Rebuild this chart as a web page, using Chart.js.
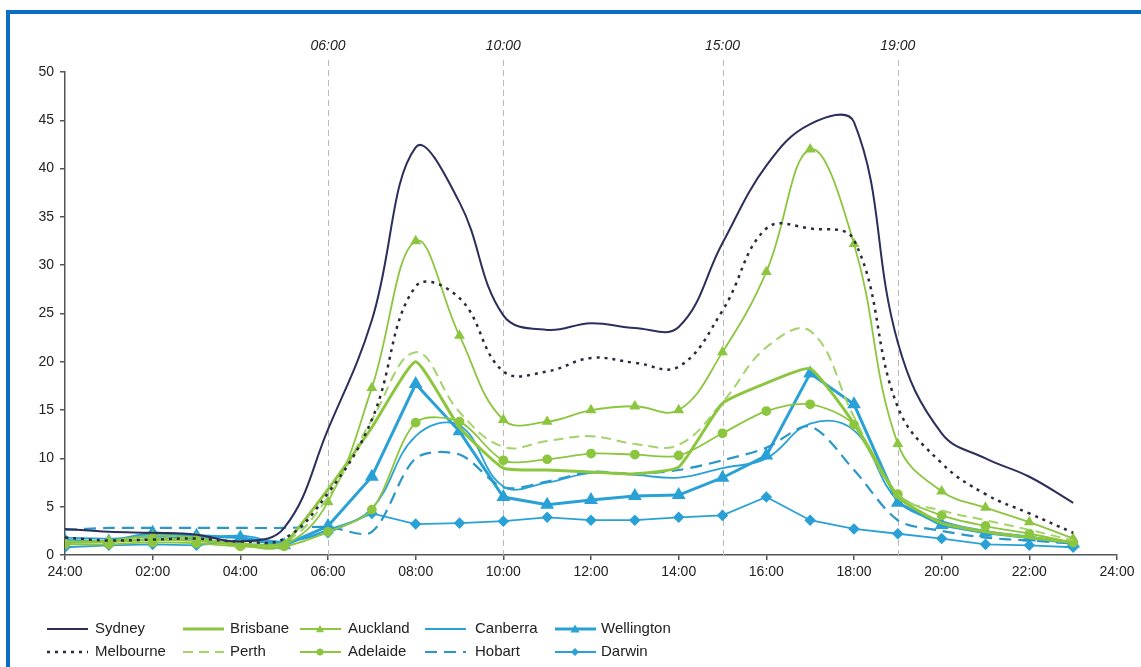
<!DOCTYPE html>
<html lang="en">
<head>
  <meta charset="UTF-8" />
  <title>Hourly profile</title>
  <script src="https://cdn.jsdelivr.net/npm/chart.js"></script>
  <style>
    html, body {
      margin: 0;
      padding: 0;
      background: #fff;
      overflow: hidden;
    }

    #frame {
      position: absolute;
      left: 6px;
      top: 10px;
      width: 1300px;
      height: 800px;
      border-left: 4px solid #0b6ebf;
      border-top: 4px solid #0b6ebf;
    }

    #profileChart {
      position: absolute;
      left: 0;
      top: 0;
    }
  </style>
</head>
<body>
  <div id="frame"></div>
  <canvas id="profileChart" width="1141" height="667"></canvas>

  <script>
    const hours = [0, 1, 2, 3, 4, 5, 6, 7, 8, 9, 10, 11, 12, 13, 14, 15, 16, 17, 18, 19, 20, 21, 22, 23];
    const xTicks = [0, 2, 4, 6, 8, 10, 12, 14, 16, 18, 20, 22, 24];
    const markerHours = [6, 10, 15, 19];

    const sydney     = [2.7, 2.4, 2.3, 2.1, 1.4, 2.8, 13.0, 24.3, 42.2, 36.5, 24.8, 23.3, 24.0, 23.5, 23.6, 32.3, 40.3, 44.6, 44.8, 22.0, 12.6, 10.0, 8.1, 5.4];
    const melbourne  = [1.8, 1.5, 1.6, 1.7, 1.4, 1.7, 6.4, 14.0, 27.8, 26.6, 19.0, 19.0, 20.4, 19.9, 19.5, 25.3, 33.8, 33.8, 32.6, 15.3, 9.5, 6.3, 4.3, 2.3];
    const brisbane   = [1.3, 1.4, 1.6, 1.5, 1.1, 1.2, 6.8, 13.2, 20.0, 13.2, 9.0, 8.8, 8.6, 8.4, 9.1, 15.7, 17.8, 19.3, 13.6, 6.0, 3.3, 2.4, 1.8, 1.3];
    const perth      = [1.4, 1.4, 1.7, 1.6, 1.2, 1.3, 6.0, 14.0, 21.0, 14.8, 11.2, 11.8, 12.3, 11.5, 11.4, 15.8, 21.5, 23.2, 14.3, 6.2, 4.6, 3.6, 2.6, 1.5];
    const auckland   = [1.3, 1.5, 2.0, 1.8, 1.0, 1.0, 5.5, 17.3, 32.5, 22.7, 14.0, 13.8, 15.0, 15.4, 15.0, 21.0, 29.3, 42.0, 32.2, 11.5, 6.6, 4.9, 3.4, 1.7];
    const adelaide   = [1.1, 1.1, 1.3, 1.2, 0.9, 0.9, 2.4, 4.7, 13.7, 13.8, 9.8, 9.9, 10.5, 10.4, 10.3, 12.6, 14.9, 15.6, 13.5, 6.3, 4.1, 3.0, 2.2, 1.3];
    const canberra   = [1.8, 1.7, 1.9, 1.7, 2.0, 1.4, 2.6, 4.8, 12.3, 13.4, 7.1, 7.5, 8.5, 8.3, 8.0, 9.0, 10.0, 13.6, 12.9, 5.6, 3.5, 2.5, 1.9, 1.3];
    const hobart     = [2.6, 2.8, 2.8, 2.8, 2.8, 2.8, 2.9, 2.4, 10.0, 10.4, 7.0, 7.6, 8.6, 8.4, 8.8, 9.8, 11.1, 13.3, 8.8, 3.6, 2.5, 1.8, 1.5, 1.2];
    const wellington = [1.5, 1.4, 2.3, 2.0, 1.8, 1.0, 3.0, 8.1, 17.7, 12.8, 6.0, 5.2, 5.7, 6.1, 6.2, 8.0, 10.3, 18.8, 15.6, 5.4, 3.1, 2.3, 1.8, 1.2];
    const darwin     = [0.8, 1.0, 1.1, 1.0, 1.5, 1.2, 2.3, 4.3, 3.2, 3.3, 3.5, 3.9, 3.6, 3.6, 3.9, 4.1, 6.0, 3.6, 2.7, 2.2, 1.7, 1.1, 1.0, 0.8];

    const NAVY = '#2c2e5c';
    const GREEN = '#8cc63f';
    const LIGHT_GREEN = '#a3d36a';
    const BLUE = '#2aa1d6';
    const FONT = '"Liberation Sans", Arial, sans-serif';

    function pts(values) {
      return hours.map((h, i) => ({ x: h, y: values[i] }));
    }

    function series(label, values, opts) {
      return Object.assign({
        label: label,
        data: pts(values),
        borderWidth: 1.8,
        pointRadius: 0,
        tension: 0,
        fill: false
      }, opts);
    }

    // legend order is column by column, two rows
    const datasets = [
      series('Sydney', sydney, { borderColor: NAVY, borderWidth: 2, tension: 0.4, col: 0, row: 0 }),
      series('Melbourne', melbourne, { borderColor: '#2a2b3a', borderWidth: 2.5, borderDash: [3, 5], tension: 0.4, col: 0, row: 1 }),
      series('Brisbane', brisbane, { borderColor: GREEN, borderWidth: 3, tension: 0.15, col: 1, row: 0 }),
      series('Perth', perth, { borderColor: LIGHT_GREEN, borderWidth: 2, borderDash: [10, 6], tension: 0.4, col: 1, row: 1 }),
      series('Auckland', auckland, { borderColor: GREEN, backgroundColor: GREEN, pointStyle: 'triangle', pointRadius: 4.5, tension: 0.4, col: 2, row: 0 }),
      series('Adelaide', adelaide, { borderColor: GREEN, backgroundColor: GREEN, pointStyle: 'circle', pointRadius: 4, tension: 0.3, col: 2, row: 1 }),
      series('Canberra', canberra, { borderColor: BLUE, borderWidth: 1.8, tension: 0.4, col: 3, row: 0 }),
      series('Hobart', hobart, { borderColor: '#2a97c8', borderWidth: 2.2, borderDash: [12, 7], tension: 0.3, col: 3, row: 1 }),
      series('Wellington', wellington, { borderColor: BLUE, backgroundColor: BLUE, borderWidth: 3, pointStyle: 'triangle', pointRadius: 5, col: 4, row: 0 }),
      series('Darwin', darwin, { borderColor: BLUE, backgroundColor: BLUE, pointStyle: 'rectRot', pointRadius: 4.5, col: 4, row: 1 })
    ];

    function hourLabel(h) {
      const n = h === 0 ? 24 : h;
      return (n < 10 ? '0' : '') + n + ':00';
    }

    function drawMarker(ctx, style, x, y, r, color) {
      ctx.save();
      ctx.fillStyle = color;
      ctx.beginPath();
      if (style === 'triangle') {
        ctx.moveTo(x, y - r);
        ctx.lineTo(x + r, y + r * 0.8);
        ctx.lineTo(x - r, y + r * 0.8);
      } else if (style === 'circle') {
        ctx.arc(x, y, r, 0, Math.PI * 2);
      } else if (style === 'rectRot') {
        ctx.moveTo(x, y - r);
        ctx.lineTo(x + r, y);
        ctx.lineTo(x, y + r);
        ctx.lineTo(x - r, y);
      }
      ctx.closePath();
      ctx.fill();
      ctx.restore();
    }

    // dashed time markers with italic labels
    const timeMarkers = {
      id: 'timeMarkers',
      beforeDatasetsDraw(chart) {
        const ctx = chart.ctx;
        const xs = chart.scales.x;
        const bottom = chart.chartArea.bottom;
        ctx.save();
        ctx.strokeStyle = '#b8b8b8';
        ctx.lineWidth = 1;
        ctx.setLineDash([6, 4]);
        markerHours.forEach(h => {
          const px = Math.round(xs.getPixelForValue(h)) + 0.5;
          ctx.beginPath();
          ctx.moveTo(px, 60);
          ctx.lineTo(px, bottom);
          ctx.stroke();
        });
        ctx.setLineDash([]);
        ctx.fillStyle = '#222';
        ctx.font = 'italic 14px ' + FONT;
        ctx.textAlign = 'center';
        ctx.textBaseline = 'middle';
        markerHours.forEach(h => {
          ctx.fillText(hourLabel(h), xs.getPixelForValue(h), 46);
        });
        ctx.restore();
      }
    };

    // legend laid out in a 5 x 2 grid
    const gridLegend = {
      id: 'gridLegend',
      afterDraw(chart) {
        const ctx = chart.ctx;
        const sampleX = [47, 183, 300, 425, 555];
        const textX = [95, 230, 348, 475, 601];
        const rowY = [629, 652];
        ctx.save();
        ctx.font = '15px ' + FONT;
        ctx.textBaseline = 'middle';
        ctx.fillStyle = '#222';
        chart.data.datasets.forEach(ds => {
          const x0 = sampleX[ds.col];
          const y = rowY[ds.row];
          ctx.strokeStyle = ds.borderColor;
          ctx.lineWidth = ds.borderWidth;
          ctx.setLineDash(ds.borderDash || []);
          ctx.beginPath();
          ctx.moveTo(x0, y);
          ctx.lineTo(x0 + 41, y);
          ctx.stroke();
          ctx.setLineDash([]);
          if (ds.pointRadius > 0) {
            drawMarker(ctx, ds.pointStyle, x0 + 20, y, ds.pointRadius - 0.5, ds.backgroundColor);
          }
          ctx.fillStyle = '#222';
          ctx.fillText(ds.label, textX[ds.col], y);
        });
        ctx.restore();
      }
    };

    new Chart(document.getElementById('profileChart'), {
      type: 'line',
      data: { datasets: datasets },
      options: {
        responsive: false,
        animation: false,
        devicePixelRatio: 1,
        layout: { padding: { left: 15, right: 24, top: 72, bottom: 82 } },
        plugins: {
          legend: { display: false },
          tooltip: { enabled: false }
        },
        elements: {
          point: { borderWidth: 0, hoverRadius: 0 }
        },
        scales: {
          x: {
            type: 'linear',
            min: 0,
            max: 24,
            afterFit(scale) { scale.height = 30; },
            afterBuildTicks(scale) { scale.ticks = xTicks.map(v => ({ value: v })); },
            ticks: {
              callback: v => hourLabel(v % 24 === 0 ? 0 : v),
              color: '#222',
              font: { family: FONT, size: 14 },
              maxRotation: 0,
              autoSkip: false,
              padding: 4
            },
            grid: { drawOnChartArea: false, color: '#555', tickLength: 5, lineWidth: 1.5 },
            border: { display: true, color: '#555', width: 1.5 }
          },
          y: {
            min: 0,
            max: 50,
            afterFit(scale) { scale.width = 50; },
            ticks: {
              stepSize: 5,
              color: '#222',
              font: { family: FONT, size: 14 },
              padding: 6
            },
            grid: { drawOnChartArea: false, color: '#555', tickLength: 5, lineWidth: 1.5 },
            border: { display: true, color: '#555', width: 1.5 }
          }
        }
      },
      plugins: [timeMarkers, gridLegend]
    });
  </script>
</body>
</html>
